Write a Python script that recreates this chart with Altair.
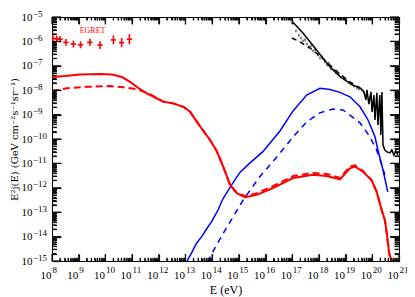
import json
import altair as alt
import pandas as pd

# ---- tick labels (mantissa "10" plus exponent) ----
x_exponents = list(range(8, 22))
y_exponents = list(range(-15, -4))
x_exp_labels = [str(e) for e in x_exponents]
y_exp_labels = [str(e).replace("-", "\u2212") for e in y_exponents]

# ---- curves: log10(E / eV) and log10(E^2 j) ----
red_solid_logE = [8.00, 8.49, 9.05, 9.80, 10.25, 10.62, 10.92, 11.30, 11.55, 12.17,
                  12.54, 12.92, 13.17, 13.54, 13.92, 14.17, 14.42, 14.67, 14.92, 15.23,
                  15.67, 16.28, 17.03, 17.78, 18.29, 18.79, 19.16, 19.35, 19.65, 19.97,
                  20.16, 20.35, 20.47, 20.54, 20.63, 20.73]
red_solid_logF = [-7.46, -7.42, -7.36, -7.34, -7.36, -7.46, -7.66, -7.96, -8.13, -8.47,
                  -8.54, -8.68, -8.88, -9.47, -10.04, -10.49, -11.15, -11.88, -12.22, -12.39,
                  -12.29, -12.01, -11.60, -11.47, -11.52, -11.66, -11.20, -11.13, -11.34, -11.68,
                  -12.16, -12.91, -13.32, -13.85, -14.67, -15.04]

red_dash_logE = [8.00, 8.56, 9.31, 10.17, 10.66, 11.18, 11.67, 12.17, 12.54, 12.92,
                 13.17, 13.54, 13.92, 14.17, 14.42, 14.67, 14.92, 15.23, 15.67, 16.28,
                 17.03, 17.78, 18.29, 18.79, 19.16, 19.35, 19.65, 19.97, 20.16, 20.35,
                 20.47, 20.54, 20.63, 20.73]
red_dash_logF = [-8.03, -7.92, -7.86, -7.83, -7.88, -7.96, -8.16, -8.47, -8.54, -8.68,
                 -8.88, -9.47, -10.04, -10.49, -11.15, -11.88, -12.20, -12.34, -12.22, -11.93,
                 -11.52, -11.39, -11.43, -11.60, -11.12, -11.08, -11.31, -11.68, -12.16, -12.91,
                 -13.32, -13.85, -14.67, -15.04]

blue_solid_logE = [13.04, 13.23, 13.42, 13.61, 13.79, 13.98, 14.22, 14.40, 14.73, 15.04,
                   15.42, 15.90, 16.54, 17.03, 17.54, 18.04, 18.41, 18.79, 19.16, 19.54,
                   19.84, 20.10, 20.21, 20.40, 20.58]
blue_solid_logF = [-15.04, -14.67, -14.26, -14.00, -13.69, -13.39, -12.91, -12.46, -11.88, -11.37,
                   -10.98, -10.52, -9.67, -8.85, -8.20, -7.92, -7.97, -8.09, -8.27, -8.68,
                   -9.22, -9.91, -10.45, -11.27, -12.17]

blue_dash_logE = [13.82, 14.10, 14.42, 14.79, 15.16, 15.79, 16.42, 17.03, 17.54, 18.04,
                  18.52, 18.90, 19.16, 19.54, 19.91, 20.16, 20.32, 20.47]
blue_dash_logF = [-15.04, -14.47, -13.86, -13.18, -12.50, -11.54, -10.74, -9.92, -9.30, -8.93,
                  -8.77, -8.81, -9.02, -9.34, -9.91, -10.45, -10.94, -11.47]

black_solid_logE = [17.01, 17.40, 17.91, 18.41, 18.79, 19.27, 19.54, 19.69, 19.76, 19.80,
                    19.87, 19.95, 19.99, 20.06, 20.10, 20.17, 20.21, 20.28, 20.32, 20.36,
                    20.40, 20.47, 20.55, 20.66, 20.73, 20.81, 20.88, 20.96]
black_solid_logF = [-5.19, -5.66, -6.35, -7.04, -7.45, -7.79, -7.91, -8.07, -8.40, -7.99,
                    -8.57, -8.07, -8.89, -8.20, -9.22, -8.11, -9.43, -8.20, -9.84, -8.07,
                    -10.25, -10.45, -10.53, -10.57, -10.45, -10.66, -10.49, -10.66]

black_dash_logE = [16.99, 17.29, 17.66, 18.04, 18.41, 18.79, 19.16, 19.54]
black_dash_logF = [-5.86, -6.02, -6.27, -6.60, -6.97, -7.34, -7.66, -7.91]

# ---- cosmic-ray data points ----
cr_logE = [17.14, 17.25, 17.33, 17.40, 17.48, 17.55, 17.63, 17.70, 17.78, 17.85,
           17.96, 18.04, 18.11, 18.22, 18.30, 18.37, 18.45, 18.56, 18.64, 18.75,
           18.82, 18.94, 19.01, 19.12, 19.20, 19.31, 19.42, 19.50, 19.61, 19.69,
           19.80, 19.91]
cr_logF = [-5.57, -5.74, -5.86, -5.98, -5.94, -6.11, -6.23, -6.19, -6.39, -6.35,
           -6.56, -6.68, -6.64, -6.84, -6.97, -6.89, -7.13, -7.17, -7.29, -7.34,
           -7.46, -7.54, -7.58, -7.70, -7.75, -7.83, -7.91, -7.95, -7.99, -8.11,
           -8.20, -8.32]
cr_err = 0.06
cr_bin = 0.03

# ---- EGRET points ----
egret_logE = [8.03, 8.18, 8.30, 8.52, 8.80, 9.07, 9.42, 9.80, 10.30, 10.61, 10.90]
egret_logF = [-5.87, -5.90, -5.91, -6.04, -6.11, -6.14, -6.04, -6.15, -5.94, -6.05, -5.91]
egret_err = [0.13, 0.13, 0.13, 0.14, 0.14, 0.14, 0.15, 0.16, 0.18, 0.19, 0.21]
egret_bin = 0.1
egret_label_pos = (9.52, -5.57)

# axis extents (log10) and tick lengths (in decades of the other axis)
X_LO, X_HI = 8, 21
Y_LO, Y_HI = -15, -5
x_major_len, x_minor_len = 0.29, 0.13
y_major_len, y_minor_len = 0.34, 0.17

FONT = "Liberation Serif"
W, H = 347, 244


def curve(logE, logF):
    return pd.DataFrame({"i": list(range(len(logE))),
                         "E": [10.0 ** v for v in logE],
                         "F": [10.0 ** v for v in logF]})


def errs(logE, logF, err, binw):
    errl = err if isinstance(err, list) else [err] * len(logE)
    return pd.DataFrame({
        "E": [10.0 ** v for v in logE],
        "F": [10.0 ** v for v in logF],
        "Flo": [10.0 ** (v - e) for v, e in zip(logF, errl)],
        "Fhi": [10.0 ** (v + e) for v, e in zip(logF, errl)],
        "Elo": [10.0 ** (v - binw) for v in logE],
        "Ehi": [10.0 ** (v + binw) for v in logE],
    })


xs = alt.Scale(type="log", domain=[10.0 ** X_LO, 10.0 ** X_HI], nice=False)
ys = alt.Scale(type="log", domain=[10.0 ** Y_LO, 10.0 ** Y_HI], nice=False)

x_major = [10.0 ** e for e in x_exponents]
x_minor = [k * 10.0 ** e for e in range(X_LO, X_HI) for k in range(2, 10)]
y_major = [10.0 ** e for e in y_exponents]
y_minor = [k * 10.0 ** e for e in range(Y_LO, Y_HI) for k in range(2, 10)]

x_expr = json.dumps(x_exp_labels, ensure_ascii=False) + "[round(log(datum.value)/LN10) - 8]"
y_expr = json.dumps(y_exp_labels, ensure_ascii=False) + "[round(log(datum.value)/LN10) + 15]"

common = dict(ticks=False, domain=False, grid=False, labelFont=FONT, labelColor="black",
              labelFlush=False, labelOverlap=False)

x_mant_axis = alt.Axis(orient="bottom", values=x_major, labelExpr="'10'", labelFontSize=11,
                       labelAlign="right", labelOffset=-1, labelPadding=8,
                       title="E (eV)", titleFont=FONT, titleFontSize=12, titleFontWeight="normal",
                       titleColor="black", titleX=W / 2, titleY=28, titleBaseline="middle", **common)
x_exp_axis = alt.Axis(orient="bottom", values=x_major, labelExpr=x_expr, labelFontSize=9,
                      labelAlign="left", labelOffset=0, labelPadding=4, title="", **common)
y_mant_axis = alt.Axis(orient="left", values=y_major, labelExpr="'10'", labelFontSize=11,
                       labelAlign="left", labelPadding=31, labelBaseline="middle",
                       title="E²j(E) (GeV cm⁻²s⁻¹sr⁻¹)", titleFont="DejaVu Serif", titleFontSize=10,
                       titleFontWeight="normal", titleColor="black", titleX=-38, titleY=H / 2,
                       titleAngle=-90, titleAlign="center", titleBaseline="middle", **common)
y_exp_axis = alt.Axis(orient="left", values=y_major, labelExpr=y_expr, labelFontSize=9,
                      labelAlign="left", labelPadding=19.5, labelBaseline="middle", labelOffset=-4,
                      title="", **common)


def tick_axis(orient, values, size, offset):
    return alt.Axis(orient=orient, values=values, tickSize=size, offset=offset, labels=False,
                    domain=False, grid=False, title="", tickColor="#111111", tickWidth=1.2)


# inward tick axes: an axis of the opposite orient shifted across the plot
xb_major = tick_axis("top", x_major, 7, -H)
xb_minor = tick_axis("top", x_minor, 3, -H)
xt_major = tick_axis("bottom", x_major, 7, -H)
xt_minor = tick_axis("bottom", x_minor, 3, -H)
yl_major = tick_axis("right", y_major, 9, -W)
yl_minor = tick_axis("right", y_minor, 4.5, -W)
yr_major = tick_axis("left", y_major, 9, -W)
yr_minor = tick_axis("left", y_minor, 4.5, -W)


def line(df, color, width, xaxis=None, yaxis=None, dash=None):
    kw = dict(color=color, strokeWidth=width, clip=True)
    if dash:
        kw["strokeDash"] = dash
    return alt.Chart(df).mark_line(**kw).encode(
        x=alt.X("E:Q", scale=xs, axis=xaxis),
        y=alt.Y("F:Q", scale=ys, axis=yaxis),
        order="i:Q",
    )


blue_s = line(curve(blue_solid_logE, blue_solid_logF), "#0000ff", 1.5, x_mant_axis, y_mant_axis)
blue_d = line(curve(blue_dash_logE, blue_dash_logF), "#0000ff", 1.5, x_exp_axis, y_exp_axis, [6, 5])
red_s = line(curve(red_solid_logE, red_solid_logF), "#ff0000", 2, xb_major, yl_major)
red_d = line(curve(red_dash_logE, red_dash_logF), "#ff0000", 2, xb_minor, yl_minor, [7, 4])
black_s = line(curve(black_solid_logE, black_solid_logF), "black", 1.5, xt_major, yr_major)
black_d = line(curve(black_dash_logE, black_dash_logF), "black", 1.5, xt_minor, yr_minor, [5, 4])

cr = errs(cr_logE, cr_logF, cr_err, cr_bin)
cr_v = alt.Chart(cr).mark_rule(color="#555555", strokeWidth=1, clip=True).encode(
    x=alt.X("E:Q", scale=xs, axis=None), y=alt.Y("Flo:Q", scale=ys, axis=None), y2="Fhi:Q")
cr_h = alt.Chart(cr).mark_rule(color="#555555", strokeWidth=1, clip=True).encode(
    x=alt.X("Elo:Q", scale=xs, axis=None), x2="Ehi:Q", y=alt.Y("F:Q", scale=ys, axis=None))

eg = errs(egret_logE, egret_logF, egret_err, egret_bin)
eg_v = alt.Chart(eg).mark_rule(color="#ff0000", strokeWidth=1.6, clip=True).encode(
    x=alt.X("E:Q", scale=xs, axis=None), y=alt.Y("Flo:Q", scale=ys, axis=None), y2="Fhi:Q")
eg_h = alt.Chart(eg).mark_rule(color="#ff0000", strokeWidth=1.6, clip=True).encode(
    x=alt.X("Elo:Q", scale=xs, axis=None), x2="Ehi:Q", y=alt.Y("F:Q", scale=ys, axis=None))

eg_label = alt.Chart(pd.DataFrame({
    "E": [10.0 ** egret_label_pos[0]], "F": [10.0 ** egret_label_pos[1]], "t": ["EGRET"]
})).mark_text(color="#ff0000", font=FONT, fontSize=8, align="center", baseline="middle").encode(
    x=alt.X("E:Q", scale=xs, axis=None), y=alt.Y("F:Q", scale=ys, axis=None), text="t:N")


# ---- inward ticks also drawn as rules through the scales ----
def xticks(values, length):
    rows = []
    for v in values:
        rows.append({"E": v, "Flo": 10.0 ** Y_LO, "Fhi": 10.0 ** (Y_LO + length)})
        rows.append({"E": v, "Flo": 10.0 ** (Y_HI - length), "Fhi": 10.0 ** Y_HI})
    return alt.Chart(pd.DataFrame(rows)).mark_rule(color="#111111", strokeWidth=1.2).encode(
        x=alt.X("E:Q", scale=xs, axis=None),
        y=alt.Y("Flo:Q", scale=ys, axis=None), y2="Fhi:Q")


def yticks(values, length):
    rows = []
    for v in values:
        rows.append({"F": v, "Elo": 10.0 ** X_LO, "Ehi": 10.0 ** (X_LO + length)})
        rows.append({"F": v, "Elo": 10.0 ** (X_HI - length), "Ehi": 10.0 ** X_HI})
    return alt.Chart(pd.DataFrame(rows)).mark_rule(color="#111111", strokeWidth=1.2).encode(
        x=alt.X("Elo:Q", scale=xs, axis=None), x2="Ehi:Q",
        y=alt.Y("F:Q", scale=ys, axis=None))


tick_layers = [xticks(x_major, x_major_len), xticks(x_minor, x_minor_len),
               yticks(y_major, y_major_len), yticks(y_minor, y_minor_len)]

chart = alt.layer(
    blue_s, blue_d, red_s, red_d, cr_v, cr_h, black_d, black_s, eg_v, eg_h, eg_label,
    *tick_layers,
).resolve_axis(x="independent", y="independent").properties(
    width=W, height=H,
    padding={"left": 44, "top": 9, "right": 8, "bottom": 36},
    autosize=alt.AutoSizeParams(type="none"),
    background="white",
).configure_view(stroke="black", strokeWidth=1)

chart.save("out.html", embed_options={"renderer": "svg", "actions": False})
